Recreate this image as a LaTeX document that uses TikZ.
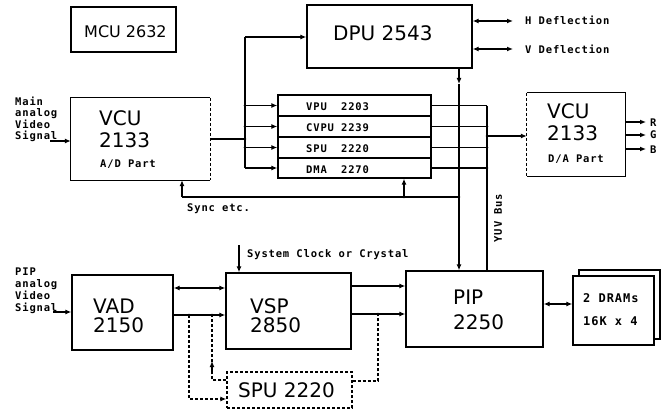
\documentclass[tikz,border=0pt]{standalone}
\usepackage{fontspec}
\setmainfont{DejaVu Sans}
\newfontfamily\lab[LetterSpace=8]{DejaVu Sans Mono}
\usetikzlibrary{arrows.meta}
\begin{document}
\begin{tikzpicture}[x=1pt,y=-1pt,
  box/.style={draw, line width=1.3pt, inner sep=0pt},
  frame/.style={inner sep=0pt},
  big/.style={inner sep=0pt, anchor=base west, font=\fontsize{20}{22}\selectfont},
  lbl/.style={inner sep=0pt, anchor=base west, font=\lab\bfseries\fontsize{10.5}{11.5}\selectfont},
  ln/.style={line width=1.3pt},
  arr/.style={ln, -{Latex[length=6pt,width=5pt]}},
  dbl/.style={ln, {Latex[length=6pt,width=5pt]}-{Latex[length=6pt,width=5pt]}},
  dsh/.style={ln, dash pattern=on 3pt off 2pt},
  jdot/.style={circle, fill, inner sep=0pt, minimum size=2.6pt}]
\useasboundingbox[fill=white] (0,0) rectangle (667,412);

% ---------- boxes ----------
\node[box, minimum width=105pt, minimum height=45pt] (mcu) at (123.5,29.5) {};
\node[box, minimum width=165pt, minimum height=63pt] (dpu) at (389.5,36.5) {};
\node[frame, minimum width=139pt, minimum height=82pt] (vcuad) at (140.5,139) {};
\draw[ln] (vcuad.north east) -- (vcuad.north west) -- (vcuad.south west) -- (vcuad.south east);
\draw[dsh, line width=1pt] (vcuad.north east) -- (vcuad.south east);

\node[box, minimum width=153pt, minimum height=21pt] (rowA) at (354.5,105.5) {};
\node[box, minimum width=153pt, minimum height=21pt] (rowB) at (354.5,126.5) {};
\node[box, minimum width=153pt, minimum height=21pt] (rowC) at (354.5,147.5) {};
\node[box, minimum width=153pt, minimum height=20pt] (rowD) at (354.5,168) {};

\node[frame, minimum width=98pt, minimum height=83pt] (vcuda) at (576,134.5) {};
\draw[ln] (vcuda.north west) -- (vcuda.north east) -- (vcuda.south east) -- (vcuda.south west);
\draw[dsh, line width=1pt] (vcuda.north west) -- (vcuda.south west);

\node[box, minimum width=101pt, minimum height=75pt] (vad) at (122.5,312.5) {};
\node[box, minimum width=125pt, minimum height=76pt] (vsp) at (288.5,311) {};
\node[box, minimum width=137pt, minimum height=76pt] (pip) at (474.5,309) {};
\node[draw, dsh, inner sep=0pt, minimum width=125pt, minimum height=36pt] (spu) at (289.5,390) {};
\node[box, fill=white, minimum width=81pt, minimum height=69pt] (dramb) at (619.5,304.5) {};
\node[box, fill=white, minimum width=81pt, minimum height=69pt] (dramf) at (613.5,310.5) {};

% ---------- texts ----------
\node[big, font=\fontsize{16}{18}\selectfont] (tmcu) at (84,38) {MCU 2632};
\node[big] (tdpu) at (333,41) {DPU 2543};
\node[big] (tvcua1) at (99,125) {VCU};
\node[big] (tvcua2) at (99,147) {2133};
\node[lbl] (tvcua3) at (100,167) {A/D Part};
\node[big] (tvcud1) at (547,118) {VCU};
\node[big] (tvcud2) at (547,140) {2133};
\node[lbl] (tvcud3) at (548,162) {D/A Part};
\node[lbl] (trA) at (306,110.5) {VPU\ \ 2203};
\node[lbl] (trB) at (306,131.5) {CVPU 2239};
\node[lbl] (trC) at (306,152.5) {SPU\ \ 2220};
\node[lbl] (trD) at (306,173) {DMA\ \ 2270};
\node[big] (tvad1) at (93,313) {VAD};
\node[big] (tvad2) at (93,332) {2150};
\node[big] (tvsp1) at (250,313) {VSP};
\node[big] (tvsp2) at (250,332) {2850};
\node[big] (tpip1) at (453,304) {PIP};
\node[big] (tpip2) at (453,329) {2250};
\node[big] (tspu) at (238,397) {SPU 2220};
\node[lbl, font=\lab\bfseries\fontsize{12}{14}\selectfont] (tdr1) at (583,302) {2 DRAMs};
\node[lbl, font=\lab\bfseries\fontsize{12}{14}\selectfont] (tdr2) at (583,325) {16K x 4};

\node[lbl, anchor=north west, align=left] (tmain) at (15,96.5) {Main\\analog\\Video\\Signal};
\node[lbl, anchor=north west, align=left, font=\lab\bfseries\fontsize{10.5}{12}\selectfont] (tpipin) at (15,267.5) {PIP\\analog\\Video\\Signal};
\node[lbl] (th) at (525,25) {H Deflection};
\node[lbl] (tv) at (525,54) {V Deflection};
\node[lbl] (tR) at (650,126) {R};
\node[lbl] (tG) at (650,139) {G};
\node[lbl] (tB) at (650,153) {B};
\node[lbl] (tsync) at (187,211) {Sync etc.};
\node[lbl] (tclk) at (247,257) {System Clock or Crystal};
\node[lbl, anchor=center, rotate=90] (tyuv) at (498,218) {YUV Bus};

% ---------- coordinates ----------
\coordinate (busT) at (245,37);
\coordinate (busB) at (245,168);
\coordinate (busIn) at (245,139);
\coordinate (yuvT) at (487,105.5);
\coordinate (yuvM) at (487,136);
\coordinate (dpuMid) at (459,84);
\coordinate (syncR) at (459,197);
\coordinate (syncL) at (182,197);
\coordinate (syncM) at (404,197);
\coordinate (clkT) at (239,245);
\coordinate (mainIn) at (50,141);
\coordinate (pipIn) at (53,312);
\coordinate (j1) at (189,315);
\coordinate (j2) at (212,315);
\coordinate (j3) at (378,314);

% ---------- connectors top ----------
\draw[arr] (mainIn) -- (vcuad.west |- mainIn);
\draw[ln] (vcuad.east |- busIn) -- (busIn);
\draw[ln] (busT) -- (busB);
\draw[arr] (busT) -- (dpu.west |- busT);
\draw[arr] (busT |- rowA.west) -- (rowA.west);
\draw[arr] (busT |- rowB.west) -- (rowB.west);
\draw[arr] (busT |- rowC.west) -- (rowC.west);
\draw[arr] (busT |- rowD.west) -- (rowD.west);
\draw[ln] (rowA.east) -- (yuvT);
\draw[ln] (rowB.east) -- (yuvT |- rowB.east);
\draw[ln] (rowC.east) -- (yuvT |- rowC.east);
\draw[ln] (rowD.east) -- (yuvT |- rowD.east);
\draw[ln] (yuvT) -- (yuvT |- pip.north);
\draw[arr] (yuvM) -- (vcuda.west |- yuvM);
\draw[dbl] (dpu.east |- 0,21) -- (513,21);
\draw[dbl] (dpu.east |- 0,49) -- (513,49);
\draw[arr] (dpuMid |- dpu.south) -- (dpuMid);
\draw[arr] (dpuMid) -- (dpuMid |- pip.north);
\draw[ln] (syncR) -- (syncL);
\draw[arr] (syncL) -- (syncL |- vcuad.south);
\draw[arr] (syncM) -- (syncM |- rowD.south);
\draw[arr] (vcuda.east |- 0,122) -- (646,122);
\draw[arr] (vcuda.east |- 0,135) -- (646,135);
\draw[arr] (vcuda.east |- 0,149) -- (646,149);

% ---------- connectors bottom ----------
\draw[arr] (pipIn) -- (vad.west |- pipIn);
\draw[dbl] (vad.east |- 0,288) -- (vsp.west |- 0,288);
\draw[arr] (vad.east |- j1) -- (vsp.west |- j1);
\draw[arr] (clkT) -- (clkT |- vsp.north);
\draw[arr] (vsp.east |- 0,286) -- (pip.west |- 0,286);
\draw[arr] (vsp.east |- j3) -- (pip.west |- j3);
\draw[dbl] (pip.east |- 0,304) -- (dramf.west |- 0,304);
\draw[dsh, -{Latex[length=6pt,width=5pt]}] (j1) -- (189,399) -- (spu.west |- 0,399);
\draw[dsh] (spu.west |- 0,380) -- (212,380) -- (212,372);
\draw[arr] (212,372) -- (212,361);
\draw[dsh] (212,362) -- (j2);
\draw[dsh] (spu.east |- 0,381) -- (j3 |- 0,381) -- (j3);

% ---------- junction dots ----------
\foreach \p in {busIn, syncR, syncM, yuvM, j1, j2, j3}
  \node[jdot] at (\p) {};
\node[jdot] at (busT |- rowA.west) {};
\node[jdot] at (busT |- rowB.west) {};
\node[jdot] at (busT |- rowC.west) {};
\node[jdot] at (yuvT |- rowB.east) {};
\node[jdot] at (yuvT |- rowC.east) {};
\node[jdot] at (yuvT |- rowD.east) {};
\end{tikzpicture}
\end{document}
